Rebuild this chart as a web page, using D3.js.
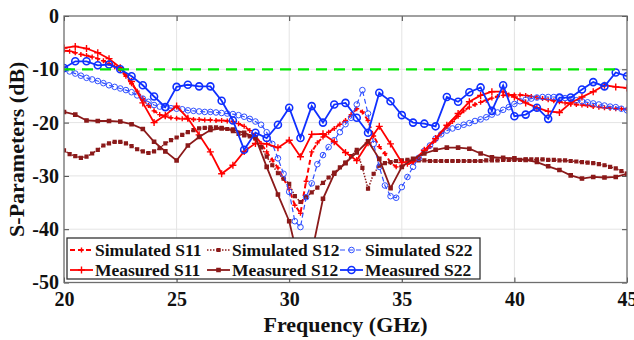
<!DOCTYPE html>
<html>
<head>
<meta charset="utf-8">
<script src="https://cdn.jsdelivr.net/npm/d3@7/dist/d3.min.js"></script>
<style>
  body { margin: 0; background: #fff; }
  svg { display: block; font-family: "Liberation Serif", "Times New Roman", serif; font-weight: bold; }
</style>
</head>
<body>
<svg id="chart" width="634" height="340"></svg>
<script>
// Frequency grids (GHz): simulated every 0.25 GHz, measured every 0.5 GHz
const freqSim = d3.range(101).map(i => 20 + i * 0.25);
const freqMeas = d3.range(51).map(i => 20 + i * 0.5);

const xTicks = [20, 25, 30, 35, 40, 45];
const yTicks = [0, -10, -20, -30, -40, -50];
const threshold = -10;

// Simulated S11 (dB)
const simS11 = [
  -6.5, -6.6, -6.9, -7.2,   -7.4, -7.7, -8.0, -8.4,
  -8.9, -9.5, -10.2, -11.3, -12.7, -14.1, -15.5, -16.8,
  -17.8, -18.5, -18.9, -19.1, -19.2, -19.3, -19.3, -19.4,
  -19.4, -19.5, -19.5, -19.6, -19.6, -19.7, -19.8, -20.2,
  -20.7, -21.5, -22.5, -23.9, -25.5, -27.0, -28.5, -30.5,
  -32.5, -35.5, -37.0, -31.0, -25.5, -23.8, -22.7, -21.8,
  -21.1, -20.3, -19.6, -18.5, -17.4, -18.0, -19.6, -22.5,
  -24.5, -25.8, -27.5, -28.3, -28.2, -27.8, -27.4, -26.6,
  -25.6, -24.5, -23.3, -22.0, -20.8, -19.8, -18.8, -17.8,
  -17.1, -16.6, -16.2, -15.8, -15.4, -15.1, -14.9, -14.8,
  -14.8, -14.8, -14.9, -15.1, -15.3, -15.5, -15.7, -15.9,
  -16.1, -16.3, -16.5, -16.6, -16.7, -16.8, -17.0, -17.1,
  -17.2, -17.3, -17.4, -17.4, -17.5
];

// Simulated S12 (dB)
const simS12 = [
  -25.2, -25.9, -26.3, -26.6, -26.4, -25.8, -25.1, -24.3,
  -23.9, -23.6, -23.6, -23.9, -24.4, -25.0, -25.4, -25.7,
  -25.4, -24.8, -23.9, -23.3, -22.8, -22.3, -21.8, -21.4,
  -21.1, -21.0, -20.9, -20.9, -21.0, -21.2, -21.6, -22.1,
  -22.4, -22.6, -23.0, -24.6, -26.4, -28.0, -29.5, -30.5,
  -31.5, -33.8, -34.9, -34.0, -33.1, -32.2, -31.3, -30.3,
  -29.4, -28.4, -27.5, -26.3, -25.1, -28.5, -32.4, -29.6,
  -28.1, -27.6, -27.4, -27.2, -27.1, -27.0, -27.0, -27.1,
  -27.1, -27.2, -27.2, -27.2, -27.2, -27.2, -27.2, -27.2,
  -27.2, -27.2, -27.2, -27.1, -27.1, -27.1, -27.0, -27.0,
  -27.0, -27.0, -26.9, -26.9, -26.9, -26.9, -27.0, -27.0,
  -27.1, -27.1, -27.2, -27.3, -27.4, -27.5, -27.6, -27.8,
  -28.0, -28.3, -28.6, -29.1, -29.6
];

// Simulated S22 (dB)
const simS22 = [
  -10.0, -10.4, -10.8, -11.2, -11.6, -11.9, -12.2, -12.6,
  -13.0, -13.3, -13.6, -13.9, -14.3, -14.9, -15.5, -16.1,
  -16.7, -17.0, -17.2, -17.3, -17.4, -17.5, -17.7, -17.8,
  -17.9, -18.0, -18.0, -18.1, -18.2, -18.3, -18.4, -18.6,
  -18.9, -19.3, -19.8, -20.4, -21.8, -24.0, -26.7, -29.6,
  -33.0, -38.5, -39.6, -34.0, -31.4, -27.8, -26.1, -24.6,
  -23.3, -21.8, -20.3, -19.1, -16.6, -13.9, -18.3, -24.0,
  -28.3, -31.8, -33.8, -34.1, -32.1, -30.2, -28.3, -26.6,
  -25.3, -24.3, -23.0, -22.2, -21.5, -21.1, -20.8, -20.4,
  -20.1, -19.7, -19.4, -19.0, -18.5, -18.1, -17.6, -17.1,
  -16.5, -16.0, -15.7, -15.5, -15.3, -15.2, -15.2, -15.2,
  -15.3, -15.4, -15.6, -15.8, -16.0, -16.2, -16.4, -16.6,
  -16.8, -17.0, -17.1, -17.4, -17.7
];

// Measured S11 (dB)
const measS11 = [
  -6.0, -5.7, -6.1, -6.9, -8.0, -9.7, -12.3, -16.3, -20.0, -18.6,
  -16.9, -19.2, -22.3, -25.5, -29.6, -28.0, -25.4, -23.9, -24.0, -24.7,
  -23.3, -26.4, -22.2, -22.1, -23.6, -25.6, -27.1, -23.8, -20.7, -24.0,
  -27.5, -27.2, -25.2, -23.0, -20.5, -18.3, -16.1, -14.9, -14.2, -14.2,
  -15.2, -16.3, -17.2, -17.9, -18.1, -16.3, -15.2, -14.2, -13.0, -13.3,
  -13.5
];

// Measured S12 (dB)
const measS12 = [
  -18.0, -18.5, -19.6, -19.7, -19.7, -19.8, -20.3, -21.2, -23.6, -25.4,
  -27.1, -24.3, -22.7, -21.4, -21.1, -21.3, -21.9, -22.8, -28.3, -33.5,
  -38.5, -47.5, -44.5, -34.3, -29.6, -27.6, -25.6, -23.5, -26.8, -32.3,
  -28.3, -26.8, -25.8, -25.1, -24.7, -24.7, -24.9, -25.8, -26.5, -26.6,
  -26.7, -27.0, -27.4, -28.2, -28.9, -29.9, -30.5, -30.2, -30.3, -30.2,
  -29.6
];

// Measured S22 (dB)
const measS22 = [
  -9.75, -8.5, -8.5, -9.25, -9.1, -10.0, -11.3, -13.0, -15.1, -17.1,
  -13.3, -12.9, -13.2, -13.2, -15.9, -19.6, -25.1, -21.9, -22.9, -20.4,
  -17.2, -22.9, -16.9, -20.0, -16.6, -16.3, -19.1, -21.9, -14.4, -16.0,
  -18.6, -20.0, -20.2, -20.7, -15.2, -16.1, -14.3, -13.4, -17.8, -13.0,
  -18.8, -18.5, -17.2, -19.3, -15.3, -15.3, -13.8, -12.4, -13.2, -10.6,
  -11.3
];

const RED = "#ff0000";
const DARKRED = "#8b1a1a";
const BLUE = "#1030ff";

const series = [
  { name: "Simulated S11", f: freqSim, v: simS11, color: RED, dash: "5,3", width: 2, marker: "plus", size: 2.5 },
  { name: "Simulated S12", f: freqSim, v: simS12, color: DARKRED, dash: "1.5,1.5", width: 1.5, marker: "square", size: 1.4 },
  { name: "Simulated S22", f: freqSim, v: simS22, color: "#3050ff", dash: "5,3", width: 1.2, marker: "circle", size: 2.8 },
  { name: "Measured S11", f: freqMeas, v: measS11, color: RED, dash: null, width: 1.8, marker: "plus", size: 3.5 },
  { name: "Measured S12", f: freqMeas, v: measS12, color: DARKRED, dash: null, width: 1.8, marker: "square", size: 1.6 },
  { name: "Measured S22", f: freqMeas, v: measS22, color: BLUE, dash: null, width: 1.8, marker: "circle", size: 3.5 }
];

// Marker outline for one point
function markerPath(type, s) {
  if (type === "plus") return `M${-s},0H${s}M0,${-s}V${s}`;
  if (type === "square") return `M${-s},${-s}H${s}V${s}H${-s}Z`;
  return `M${-s},0A${s},${s} 0 1,0 ${s},0A${s},${s} 0 1,0 ${-s},0Z`;
}

function styleMarker(sel, d) {
  sel.attr("d", markerPath(d.marker, d.size))
    .attr("stroke", d.color)
    .attr("stroke-width", d.marker === "circle" ? (d.dash ? 1 : 1.6) : 1.4)
    .attr("fill", d.marker === "square" ? d.color : "none");
}

function drawChart() {
  const svg = d3.select("#chart");
  const width = 634, height = 340;
  const margin = { top: 16, right: 7, bottom: 57.5, left: 64 };

  const x = d3.scaleLinear().domain([20, 45]).range([margin.left, width - margin.right]);
  const y = d3.scaleLinear().domain([-50, 0]).range([height - margin.bottom, margin.top]);

  // Grid
  svg.append("g").selectAll("line").data(xTicks.slice(1, -1)).join("line")
    .attr("x1", d => x(d)).attr("x2", d => x(d))
    .attr("y1", y(0)).attr("y2", y(-50))
    .attr("stroke", "#e4e4e4").attr("stroke-width", 1);
  svg.append("g").selectAll("line").data(yTicks.slice(1, -1)).join("line")
    .attr("x1", x(20)).attr("x2", x(45))
    .attr("y1", d => y(d)).attr("y2", d => y(d))
    .attr("stroke", "#e4e4e4").attr("stroke-width", 1);

  // Axes with inward ticks (plain hyphen for negatives)
  const fmt = d => String(d);
  const gx = svg.append("g")
    .attr("transform", `translate(0,${y(-50)})`)
    .call(d3.axisBottom(x).tickValues(xTicks).tickFormat(fmt).tickSize(-5).tickPadding(8));
  svg.append("g")
    .attr("transform", `translate(${x(20)},0)`)
    .call(d3.axisLeft(y).tickValues(yTicks).tickFormat(fmt).tickSize(-5).tickPadding(5));
  svg.append("g")
    .attr("transform", `translate(0,${y(0)})`)
    .call(d3.axisTop(x).tickValues(xTicks).tickFormat("").tickSize(-5));
  svg.append("g")
    .attr("transform", `translate(${x(45)},0)`)
    .call(d3.axisRight(y).tickValues(yTicks).tickFormat("").tickSize(-5));

  svg.selectAll(".domain").remove();
  svg.selectAll(".tick line").attr("stroke", "#444");
  svg.selectAll(".tick text")
    .attr("fill", "#111")
    .style("font-size", "20px")
    .style("font-family", "Liberation Serif, serif")
    .style("font-weight", "bold");
  gx.selectAll(".tick text").attr("dy", "0.75em");

  // Clip region for curves
  svg.append("clipPath").attr("id", "plot-clip")
    .append("rect")
    .attr("x", x(20)).attr("y", y(0))
    .attr("width", x(45) - x(20)).attr("height", y(-50) - y(0));

  const plot = svg.append("g").attr("clip-path", "url(#plot-clip)");

  series.forEach(s => {
    const pts = s.f.map((f, i) => ({ f, v: s.v[i] }));
    const line = d3.line().x(d => x(d.f)).y(d => y(d.v));
    plot.append("path")
      .datum(pts)
      .attr("fill", "none")
      .attr("stroke", s.color)
      .attr("stroke-width", s.width)
      .attr("stroke-dasharray", s.dash)
      .attr("d", line);
    plot.append("g").selectAll("path").data(pts).join("path")
      .attr("transform", d => `translate(${x(d.f)},${y(d.v)})`)
      .call(sel => styleMarker(sel, s));
  });

  // -10 dB reference line
  plot.append("line")
    .attr("x1", x(20)).attr("x2", x(44.5))
    .attr("y1", y(threshold)).attr("y2", y(threshold))
    .attr("stroke", "#00e600")
    .attr("stroke-width", 2.2)
    .attr("stroke-dasharray", "11,7");

  // Plot frame
  svg.append("rect")
    .attr("x", x(20)).attr("y", y(0))
    .attr("width", x(45) - x(20)).attr("height", y(-50) - y(0))
    .attr("fill", "none")
    .attr("stroke", "#6e6e6e")
    .attr("stroke-width", 1.3);

  // Legend
  const legend = svg.append("g");
  legend.append("rect")
    .attr("x", 67).attr("y", 238).attr("width", 413).attr("height", 41)
    .attr("fill", "#fff").attr("stroke", "#333").attr("stroke-width", 1.3);
  const colX = [70, 207, 340];
  const rowY = [250, 270];
  series.forEach((s, i) => {
    const cx = colX[i % 3], cy = rowY[Math.floor(i / 3)];
    const g = legend.append("g").attr("transform", `translate(${cx},${cy})`);
    g.append("line")
      .attr("x1", 0).attr("x2", 23).attr("y1", 0).attr("y2", 0)
      .attr("stroke", s.color).attr("stroke-width", s.width)
      .attr("stroke-dasharray", s.dash);
    g.append("path")
      .attr("transform", "translate(11.5,0)")
      .call(sel => styleMarker(sel, s));
    g.append("text")
      .attr("x", 25).attr("dy", "0.35em")
      .attr("fill", "#111")
      .style("font-size", "17.5px")
      .text(s.name);
  });

  // Axis labels
  svg.append("text")
    .attr("x", (x(20) + x(45)) / 2).attr("y", 332)
    .attr("text-anchor", "middle")
    .attr("fill", "#111")
    .style("font-size", "22px")
    .text("Frequency (GHz)");

  svg.append("text")
    .attr("transform", `translate(24,${(y(0) + y(-50)) / 2}) rotate(-90)`)
    .attr("text-anchor", "middle")
    .attr("fill", "#111")
    .style("font-size", "22px")
    .text("S-Parameters (dB)");
}

drawChart();
</script>
</body>
</html>
